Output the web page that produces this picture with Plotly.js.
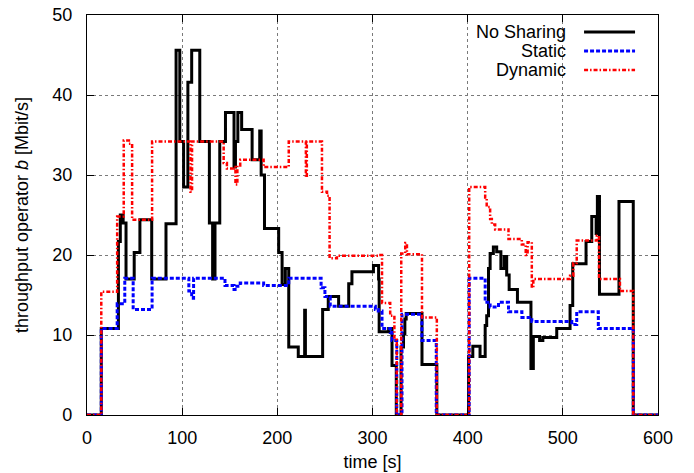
<!DOCTYPE html>
<html>
<head>
<meta charset="utf-8">
<script src="https://cdn.plot.ly/plotly-3.0.1.min.js"></script>
<style>html,body{margin:0;padding:0;background:#fff;}#chart{width:694px;height:473px;}</style>
</head>
<body>
<div id="chart"></div>
<script>
// Step series: each value holds from its time until the next time (shape 'hv')
const noSharingT = [0, 15, 33, 35, 38, 41, 49.6, 55.6, 68, 83, 93.6, 97.5, 101.5, 106, 110, 118.5, 128.6, 132, 134.5, 139.5, 145.5, 154.5, 156, 158.5, 162.5, 173.5, 181.5, 183, 186.5, 201.4, 205, 208.4, 212, 222, 228.7, 229.5, 247.6, 253.5, 264.4, 275, 278.4, 301, 306.4, 307, 317, 320.5, 325, 330, 332.6, 334, 335.4, 352, 367.6, 401, 405.4, 413, 418.4, 420, 421.9, 423.6, 427, 430.5, 434.9, 438.4, 441, 443.6, 452.3, 466.5, 469, 475.6, 479, 493.6, 507.6, 510.4, 512.9, 524.4, 530.4, 535, 536.3, 538.5, 559, 574, 600];
const noSharingV = [0, 10.8, 21.7, 25.0, 24.0, 17.0, 20.3, 24.4, 17.0, 23.9, 45.6, 34.2, 28.5, 41.6, 45.6, 34.2, 24.0, 17.0, 24.0, 34.2, 37.8, 31.0, 34.2, 37.8, 35.7, 31.9, 35.5, 30.0, 23.3, 20.3, 16.3, 18.3, 8.5, 7.3, 13.1, 7.3, 13.2, 14.8, 13.6, 16.4, 17.9, 18.7, 17.0, 10.4, 10.8, 6.2, 0, 8.5, 10.2, 12.0, 12.7, 6.3, 0, 7.3, 8.6, 7.3, 11.2, 12.4, 18.3, 20.2, 21.0, 20.4, 18.3, 19.8, 17.5, 15.7, 14.1, 5.8, 9.8, 9.3, 9.7, 10.8, 13.7, 18.9, 18.9, 21.7, 24.8, 22.7, 27.3, 15.1, 26.7, 0, 0];

const staticT = [0, 15, 31.7, 39.7, 48.5, 68.4, 107, 110, 112, 143.6, 145, 154.5, 157.5, 161, 185.6, 212, 246, 250, 255.6, 303, 306, 310, 318.7, 320.5, 325.5, 331, 351.9, 367, 401.6, 418.4, 423.6, 432.4, 442.9, 457, 467.4, 509.4, 514.6, 537.3, 574, 600];
const staticV = [0, 10.8, 13.9, 17.1, 13.2, 17.1, 15.5, 14.6, 17.1, 17.1, 16.2, 15.7, 16.1, 16.5, 16.2, 17.1, 15.9, 14.8, 13.6, 13.2, 13.0, 10.8, 10.3, 9.3, 0, 12.6, 9.3, 0, 17.1, 14.1, 13.5, 14.1, 12.9, 12.2, 11.7, 11.3, 12.9, 10.8, 0, 0];

const dynamicT = [0, 15, 31.7, 38.6, 44, 47.4, 68.4, 108.7, 110.4, 143.6, 147, 154, 156, 158, 161, 185.6, 212, 230, 231, 246.9, 252.2, 254.9, 262.6, 306.4, 310, 318.6, 323, 325.5, 330.2, 334.4, 336.2, 352, 367.6, 401.6, 418.4, 420, 423.6, 425.4, 428.9, 442.9, 456.9, 461, 463, 467.4, 469, 507.6, 511, 514.6, 535.7, 538, 560, 574, 600];
const dynamicV = [0, 15.4, 24.8, 34.3, 33.9, 24.4, 34.2, 27.9, 34.2, 31.5, 30.8, 31.0, 28.8, 31.2, 31.9, 31.0, 34.2, 29.7, 34.2, 27.9, 27.4, 19.6, 19.9, 20.0, 14.0, 12.4, 9.4, 0, 20.2, 21.5, 20.1, 12.2, 0, 28.5, 27.2, 26.0, 24.5, 23.8, 23.2, 22.0, 21.3, 20.0, 21.6, 15.9, 17.0, 17.4, 19.0, 21.8, 22.4, 17.0, 15.5, 0, 0];

const seriesNames = ['No Sharing', 'Static', 'Dynamic'];
const xTicks = [0, 100, 200, 300, 400, 500, 600];
const yTicks = [0, 10, 20, 30, 40, 50];

const FONT = 'Liberation Sans, Arial, Helvetica, sans-serif';
const styles = [
  {color: '#000000', width: 3, dash: 'solid'},
  {color: '#0000ff', width: 3, dash: '4px,2px'},
  {color: '#ff0000', width: 2.5, dash: '4px,2px,1.5px,2px'}
];

const traces = [
  {x: noSharingT, y: noSharingV, name: seriesNames[0], type: 'scatter', mode: 'lines', line: Object.assign({shape: 'hv'}, styles[0])},
  {x: staticT, y: staticV, name: seriesNames[1], type: 'scatter', mode: 'lines', line: Object.assign({shape: 'hv'}, styles[1])},
  {x: dynamicT, y: dynamicV, name: seriesNames[2], type: 'scatter', mode: 'lines', line: Object.assign({shape: 'hv'}, styles[2])}
];

// Custom legend (text left of sample, as in the reference)
const legY = [0.9575, 0.91, 0.8625];
const annotations = seriesNames.map((n, i) => ({
  text: n, xref: 'paper', yref: 'paper', x: 0.8425, y: legY[i],
  xanchor: 'right', yanchor: 'middle', showarrow: false,
  font: {family: FONT, size: 18, color: '#000'}
}));
const shapes = seriesNames.map((n, i) => ({
  type: 'line', xref: 'paper', yref: 'paper', x0: 0.8705, x1: 0.9598, y0: legY[i], y1: legY[i],
  line: {color: styles[i].color, width: styles[i].width, dash: styles[i].dash}
}));

const axisCommon = {
  showline: true, mirror: 'ticks', linecolor: '#000', linewidth: 1.2,
  ticks: 'inside', ticklen: 7, tickcolor: '#000', tickwidth: 1,
  showgrid: true, gridcolor: '#7a7a7a', griddash: 'dot', gridwidth: 1,
  zeroline: false, tickfont: {family: FONT, size: 18, color: '#000'},
  fixedrange: true
};

const layout = {
  width: 694, height: 473,
  margin: {l: 86.5, r: 36, t: 15, b: 58},
  paper_bgcolor: '#fff', plot_bgcolor: '#fff',
  showlegend: false,
  font: {family: FONT, size: 18, color: '#000'},
  xaxis: Object.assign({}, axisCommon, {
    range: [0, 600], tickvals: xTicks, ticktext: xTicks.map(String),
    ticklabelstandoff: 6,
    title: {text: 'time [s]', font: {family: FONT, size: 18}, standoff: 8}
  }),
  yaxis: Object.assign({}, axisCommon, {
    range: [0, 50], tickvals: yTicks, ticktext: yTicks.map(String),
    ticklabelstandoff: 10,
    title: {text: 'throughput operator <i>b</i> [Mbit/s]', font: {family: FONT, size: 18}, standoff: 18}
  }),
  annotations: annotations,
  shapes: shapes
};

Plotly.newPlot('chart', traces, layout, {displayModeBar: false, staticPlot: true});
</script>
</body>
</html>
